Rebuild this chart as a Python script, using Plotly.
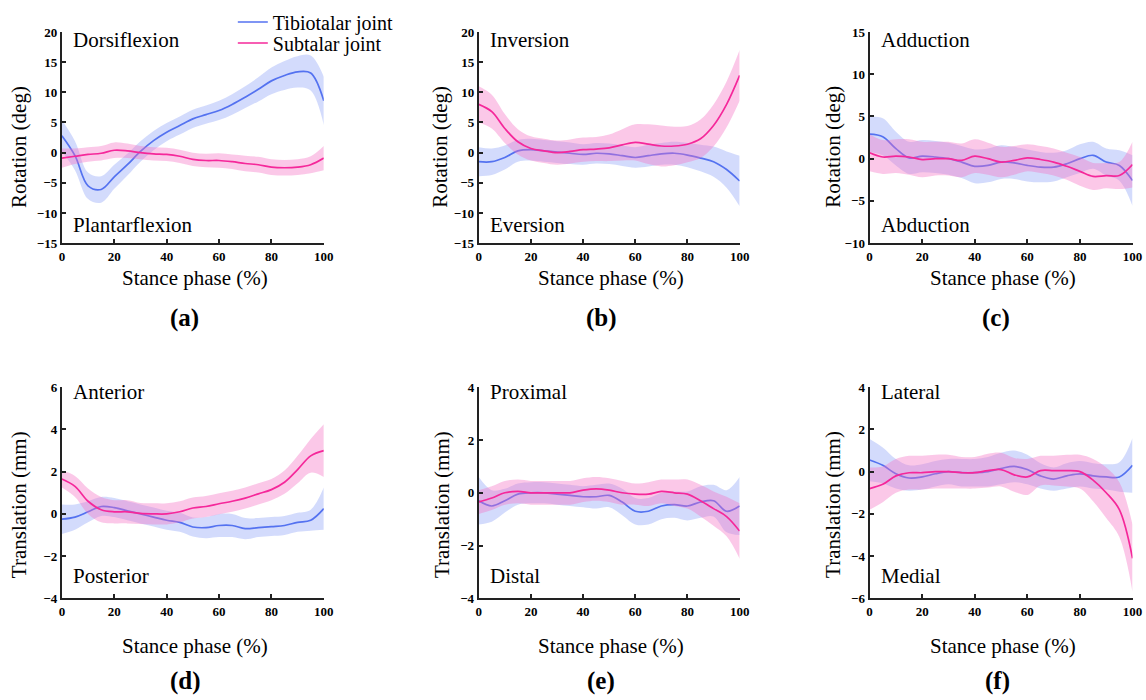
import plotly.graph_objects as go

# Stance phase (%)
X = [0, 5, 10, 15, 20, 25, 30, 35, 40, 45, 50, 55, 60, 65, 70, 75, 80, 85, 90, 95, 100]

# (a) Dorsiflexion / Plantarflexion rotation (deg)
a_tib = [2.8, -0.5, -5.5, -6.1, -4.0, -2.0, 0.2, 2.0, 3.4, 4.5, 5.6, 6.3, 7.0, 8.0, 9.2, 10.5, 11.9, 12.8, 13.4, 13.2, 8.6]
a_tib_sd = [2.6, 2.4, 2.2, 2.2, 2.0, 1.8, 1.7, 1.6, 1.5, 1.5, 1.5, 1.5, 1.6, 1.7, 1.8, 2.0, 2.2, 2.4, 2.6, 2.9, 4.0]
a_sub = [-0.9, -0.6, -0.3, -0.1, 0.4, 0.3, 0.0, -0.2, -0.3, -0.6, -1.1, -1.3, -1.3, -1.5, -1.8, -2.0, -2.4, -2.5, -2.4, -2.0, -0.9]
a_sub_sd = [1.6, 1.3, 1.2, 1.2, 1.3, 1.2, 1.1, 1.1, 1.1, 1.1, 1.1, 1.1, 1.2, 1.2, 1.3, 1.3, 1.3, 1.3, 1.3, 1.4, 2.0]

# (b) Inversion / Eversion rotation (deg)
b_tib = [-1.5, -1.5, -0.8, 0.3, 0.5, 0.3, 0.1, -0.1, -0.3, -0.1, -0.2, -0.5, -0.8, -0.5, -0.2, -0.1, -0.4, -0.9, -1.5, -2.8, -4.7]
b_tib_sd = [2.4, 2.2, 2.0, 1.8, 1.8, 1.8, 1.8, 1.8, 1.7, 1.7, 1.7, 1.7, 1.7, 1.8, 1.8, 1.9, 2.0, 2.2, 2.5, 3.0, 4.2]
b_sub = [8.0, 6.8, 4.0, 1.8, 0.7, 0.3, 0.0, 0.2, 0.5, 0.6, 0.8, 1.3, 1.7, 1.4, 1.1, 1.1, 1.4, 2.3, 4.5, 8.0, 12.8]
b_sub_sd = [3.0, 2.8, 2.4, 2.1, 2.0, 2.0, 2.0, 2.0, 2.0, 2.0, 2.2, 2.6, 3.0, 3.3, 3.4, 3.2, 3.0, 3.2, 3.5, 3.8, 4.2]

# (c) Adduction / Abduction rotation (deg)
c_tib = [2.9, 2.6, 1.2, 0.1, 0.3, 0.2, 0.0, -0.4, -0.9, -0.8, -0.4, -0.5, -0.8, -1.0, -1.0, -0.6, 0.0, 0.4, -0.4, -0.8, -2.6]
c_tib_sd = [2.1, 2.2, 2.0, 1.9, 1.9, 1.9, 1.9, 1.9, 2.0, 2.0, 2.0, 1.9, 1.9, 1.8, 1.7, 1.6, 1.7, 1.6, 1.6, 1.8, 3.0]
c_sub = [0.7, 0.2, 0.3, 0.2, -0.1, 0.0, 0.0, -0.2, 0.3, 0.0, -0.4, -0.2, 0.1, -0.1, -0.4, -0.9, -1.5, -2.1, -2.0, -2.0, -0.7]
c_sub_sd = [2.2, 2.0, 2.0, 2.1, 2.1, 2.0, 2.0, 2.0, 2.0, 1.9, 1.8, 1.7, 1.6, 1.6, 1.6, 1.6, 1.7, 1.6, 1.5, 1.6, 2.7]

# (d) Anterior / Posterior translation (mm)
d_tib = [-0.25, -0.15, 0.1, 0.35, 0.3, 0.15, 0.0, -0.15, -0.3, -0.4, -0.62, -0.65, -0.55, -0.55, -0.7, -0.65, -0.6, -0.55, -0.4, -0.3, 0.25]
d_tib_sd = [0.7, 0.6, 0.5, 0.45, 0.45, 0.45, 0.45, 0.45, 0.45, 0.45, 0.45, 0.5, 0.55, 0.55, 0.5, 0.45, 0.45, 0.45, 0.45, 0.5, 1.0]
d_sub = [1.65, 1.3, 0.6, 0.2, 0.1, 0.1, 0.02, 0.0, 0.0, 0.1, 0.28, 0.35, 0.48, 0.6, 0.75, 0.95, 1.15, 1.5, 2.1, 2.75, 3.0]
d_sub_sd = [0.4, 0.5, 0.6, 0.6, 0.55, 0.55, 0.5, 0.5, 0.5, 0.5, 0.5, 0.5, 0.5, 0.5, 0.5, 0.5, 0.5, 0.55, 0.65, 0.8, 1.25]

# (e) Proximal / Distal translation (mm)
e_tib = [-0.3, -0.5, -0.3, -0.05, 0.0, 0.0, -0.05, -0.1, -0.15, -0.15, -0.1, -0.35, -0.7, -0.7, -0.5, -0.45, -0.5, -0.35, -0.3, -0.7, -0.5]
e_tib_sd = [0.9, 0.6, 0.45, 0.4, 0.4, 0.4, 0.4, 0.4, 0.4, 0.45, 0.45, 0.5, 0.5, 0.5, 0.5, 0.5, 0.55, 0.6, 0.6, 0.8, 1.1]
e_sub = [-0.35, -0.2, 0.0, 0.05, 0.0, 0.0, 0.0, 0.0, 0.1, 0.15, 0.1, 0.0, -0.05, -0.05, 0.05, 0.0, -0.05, -0.3, -0.6, -0.9, -1.45]
e_sub_sd = [0.45, 0.45, 0.45, 0.45, 0.45, 0.45, 0.45, 0.45, 0.45, 0.45, 0.45, 0.45, 0.4, 0.45, 0.45, 0.5, 0.55, 0.6, 0.65, 0.75, 1.05]

# (f) Lateral / Medial translation (mm)
f_tib = [0.55, 0.3, -0.1, -0.3, -0.25, -0.1, 0.0, -0.05, -0.05, 0.0, 0.15, 0.25, 0.1, -0.2, -0.35, -0.2, -0.1, -0.2, -0.25, -0.25, 0.3]
f_tib_sd = [1.0, 0.85, 0.7, 0.6, 0.6, 0.6, 0.6, 0.65, 0.65, 0.7, 0.75, 0.75, 0.7, 0.6, 0.55, 0.6, 0.6, 0.6, 0.6, 0.7, 1.3]
f_sub = [-0.8, -0.6, -0.2, -0.05, -0.05, 0.0, 0.0, -0.05, -0.05, 0.05, 0.1, -0.15, -0.25, 0.05, 0.05, 0.05, 0.0, -0.4, -1.0, -1.8, -4.1]
f_sub_sd = [1.0, 0.85, 0.8, 0.8, 0.8, 0.8, 0.8, 0.75, 0.75, 0.8, 0.8, 0.8, 0.85, 0.7, 0.7, 0.75, 0.8, 1.0, 1.2, 1.3, 1.6]

panel_letters = ["(a)", "(b)", "(c)", "(d)", "(e)", "(f)"]
top_labels = ["Dorsiflexion", "Inversion", "Adduction", "Anterior", "Proximal", "Lateral"]
bottom_labels = ["Plantarflexion", "Eversion", "Abduction", "Posterior", "Distal", "Medial"]
y_titles = ["Rotation (deg)"] * 3 + ["Translation (mm)"] * 3
y_ranges = [[-15, 20], [-15, 20], [-10, 15], [-4, 6], [-4, 4], [-6, 4]]
y_dticks = [5, 5, 5, 2, 2, 2]
x_title = "Stance phase (%)"
series_names = ["Tibiotalar joint", "Subtalar joint"]

data = [
    (a_tib, a_tib_sd, a_sub, a_sub_sd),
    (b_tib, b_tib_sd, b_sub, b_sub_sd),
    (c_tib, c_tib_sd, c_sub, c_sub_sd),
    (d_tib, d_tib_sd, d_sub, d_sub_sd),
    (e_tib, e_tib_sd, e_sub, e_sub_sd),
    (f_tib, f_tib_sd, f_sub, f_sub_sd),
]

W, H = 1146, 700
FONT = "Liberation Serif, Times New Roman, serif"
BLUE = "#5472f0"
BLUE_FILL = "rgba(110,135,245,0.30)"
PINK = "#f5289a"
PINK_FILL = "rgba(245,110,195,0.38)"

# target pixel layout (as seen in the photographed page)
cols = [(61, 323), (478, 739), (869, 1132)]
rows = [(33, 244), (388, 599)]
ytitle_x = [18, 439, 832, 18, 442, 833]
ytitle_y = [148, 505]
xtitle_y = [279, 647]
letter_x = [184, 601, 995, 185, 600, 997]
letter_y = [319, 682]
toplab_y = [41, 393]
botlab_y = [226, 577]

# photographed page shows a slight offset/scale; compensate
SX, OX = 0.989, 2.1
SY, OY = 0.978, 8.0


def px_x(t):
    return ((t - OX) / SX) / W


def px_y(t):
    return 1 - ((t - OY) / SY) / H


fig = go.Figure()
legend_ids = ["legend", "legend2"]

for i, (tib, tib_sd, sub, sub_sd) in enumerate(data):
    r, c = divmod(i, 3)
    xa = "x" if i == 0 else f"x{i+1}"
    ya = "y" if i == 0 else f"y{i+1}"
    for k, (m, sd, col, fillc) in enumerate([(tib, tib_sd, BLUE, BLUE_FILL), (sub, sub_sd, PINK, PINK_FILL)]):
        lo = [a - b for a, b in zip(m, sd)]
        hi = [a + b for a, b in zip(m, sd)]
        fig.add_trace(go.Scatter(x=X, y=lo, xaxis=xa, yaxis=ya, mode="lines",
                                 line=dict(width=0, shape="spline", color=fillc),
                                 showlegend=False, hoverinfo="skip"))
        fig.add_trace(go.Scatter(x=X, y=hi, xaxis=xa, yaxis=ya, mode="lines",
                                 line=dict(width=0, shape="spline", color=fillc),
                                 fill="tonexty", fillcolor=fillc,
                                 showlegend=False, hoverinfo="skip"))
        fig.add_trace(go.Scatter(x=X, y=m, xaxis=xa, yaxis=ya, mode="lines",
                                 line=dict(width=1.7, shape="spline", color=col),
                                 name=series_names[k], showlegend=(i == 0),
                                 legend=legend_ids[k]))

    x0, x1 = cols[c]
    y0, y1 = rows[r]
    axis_common = dict(showline=True, linecolor="#222", linewidth=2, ticks="inside",
                       ticklen=4, tickwidth=1.5, tickcolor="#222", showgrid=False,
                       zeroline=False, mirror=False,
                       tickfont=dict(family=FONT, size=13, color="black", weight="bold"))
    fig.layout[("xaxis" if i == 0 else f"xaxis{i+1}")] = dict(
        domain=[px_x(x0), px_x(x1)], anchor=ya, range=[0, 100], tick0=0, dtick=20, **axis_common)
    fig.layout[("yaxis" if i == 0 else f"yaxis{i+1}")] = dict(
        domain=[px_y(y1), px_y(y0)], anchor=xa, range=y_ranges[i], dtick=y_dticks[i], **axis_common)

    # direction labels
    fig.add_annotation(x=px_x(x0 + 9), y=px_y(toplab_y[r]), xref="paper", yref="paper", text=top_labels[i],
                       showarrow=False, xanchor="left", yanchor="middle",
                       font=dict(family=FONT, size=21, color="black"))
    fig.add_annotation(x=px_x(x0 + 9), y=px_y(botlab_y[r]), xref="paper", yref="paper", text=bottom_labels[i],
                       showarrow=False, xanchor="left", yanchor="middle",
                       font=dict(family=FONT, size=21, color="black"))
    # axis titles
    fig.add_annotation(x=px_x((x0 + x1) / 2 + 2), y=px_y(xtitle_y[r]), xref="paper", yref="paper", text=x_title,
                       showarrow=False, xanchor="center", yanchor="middle",
                       font=dict(family=FONT, size=21, color="black"))
    fig.add_annotation(x=px_x(ytitle_x[i]), y=px_y(ytitle_y[r]), xref="paper", yref="paper", text=y_titles[i],
                       showarrow=False, xanchor="center", yanchor="middle", textangle=-90,
                       font=dict(family=FONT, size=21, color="black"))
    # panel letter
    fig.add_annotation(x=px_x(letter_x[i]), y=px_y(letter_y[r]), xref="paper", yref="paper", text=panel_letters[i],
                       showarrow=False, xanchor="center", yanchor="middle",
                       font=dict(family=FONT, size=25, color="black", weight="bold"))

legend_common = dict(xanchor="left", yanchor="middle", bgcolor="rgba(0,0,0,0)",
                     font=dict(family=FONT, size=20, color="black"), itemwidth=30,
                     borderwidth=0)
fig.update_layout(
    width=W, height=H,
    margin=dict(l=0, r=0, t=0, b=0),
    paper_bgcolor="white", plot_bgcolor="white",
    font=dict(family=FONT, color="black"),
    legend=dict(x=px_x(232), y=px_y(23), **legend_common),
    legend2=dict(x=px_x(232), y=px_y(44), **legend_common),
)

post = "document.body.style.margin='0';"
fig.write_html("out.html", post_script=post, config={"displayModeBar": False})
